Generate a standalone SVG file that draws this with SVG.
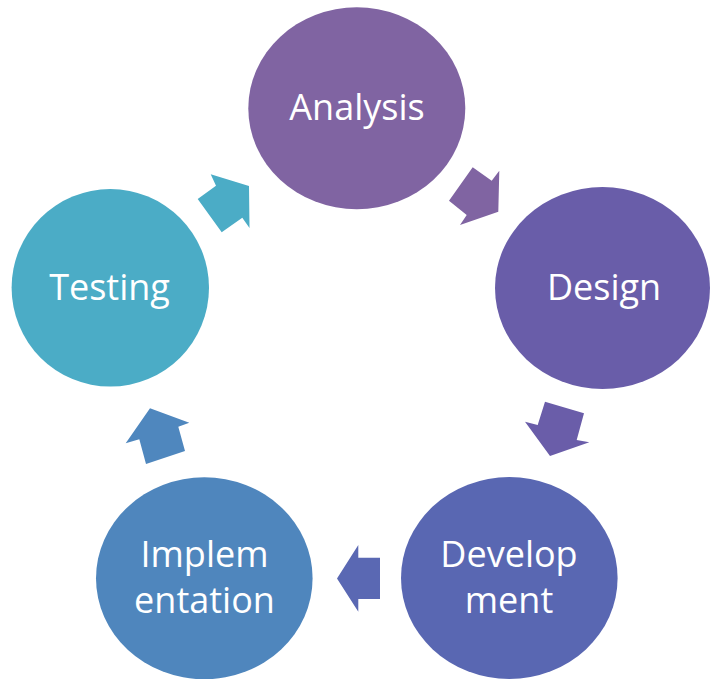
<svg xmlns="http://www.w3.org/2000/svg" width="710" height="679" viewBox="0 0 710 679">
<style>
.lbl{font-family:"Open Sans","Noto Sans","Liberation Sans",sans-serif;font-size:36px;fill:#ffffff;text-anchor:middle}
</style>
<rect width="710" height="679" fill="#ffffff"/>
<g id="connectors">
<polygon fill="#8064A2" points="472.7,167.3 491.7,180.7 499.3,170.7 498.3,211.7 460,225 466.7,215 449,200.7"/>
<polygon fill="#6A5DA9" points="545,401.7 584,413.3 576.7,440 589.3,442.3 550,456 525,421.7 537.7,425"/>
<polygon fill="#5A68B3" points="337,578.5 358.3,545 358.3,557.7 380,557.7 380,599 358.3,599 358.3,611.7"/>
<polygon fill="#4F87BE" points="150,408.3 189.3,422.7 178.3,426.7 185,451 146,464 139.3,439.3 125.7,443.3"/>
<polygon fill="#4BACC6" points="210.7,174.3 249,186 249.5,228 242.3,217.7 221.7,232.3 197.7,199 216,185.7"/>
</g>
<g id="analysis">
<ellipse cx="356.8" cy="108.3" rx="108.5" ry="101" fill="#8064A2"/>
<text class="lbl" x="357" y="120">Analysis</text>
</g>
<g id="design">
<ellipse cx="602.5" cy="288" rx="107.5" ry="101" fill="#695DA9"/>
<text class="lbl" x="604" y="300">Design</text>
</g>
<g id="development">
<ellipse cx="509.3" cy="578" rx="108.3" ry="101" fill="#5967B2"/>
<text class="lbl" x="509" y="566.7">Develop</text>
<text class="lbl" x="509" y="613.3">ment</text>
</g>
<g id="implementation">
<ellipse cx="204.3" cy="578.3" rx="108.3" ry="101" fill="#4F86BD"/>
<text class="lbl" x="204.5" y="566.7">Implem</text>
<text class="lbl" x="204.5" y="613.3">entation</text>
</g>
<g id="testing">
<ellipse cx="110.3" cy="287.8" rx="98.7" ry="98.8" fill="#4BACC6"/>
<text class="lbl" x="109.5" y="300">Testing</text>
</g>
</svg>
